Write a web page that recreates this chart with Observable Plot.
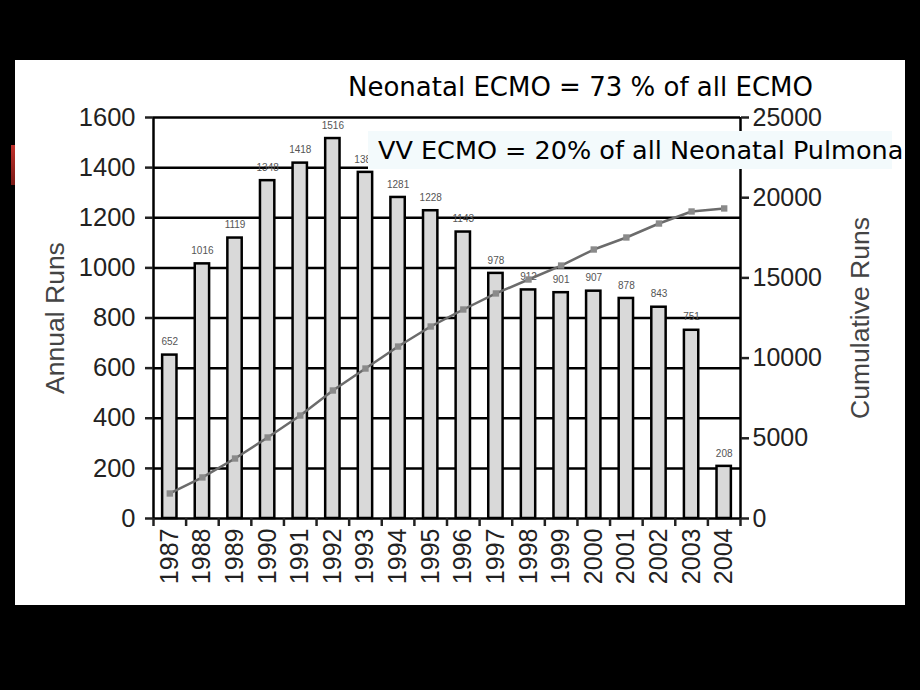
<!DOCTYPE html>
<html>
<head>
<meta charset="utf-8">
<script src="https://cdn.jsdelivr.net/npm/d3@7"></script>
<script src="https://cdn.jsdelivr.net/npm/@observablehq/plot@0.6"></script>
<style>
  html, body { margin: 0; padding: 0; background: #000; }
  #page { position: relative; width: 920px; height: 690px; background: #000; overflow: hidden; }
  #panel { position: absolute; left: 15px; top: 60px; width: 890px; height: 545px; background: #fff; }
  #red { position: absolute; left: 11px; top: 145px; width: 4px; height: 40px; background: linear-gradient(#c0302a, #7a1a16); }
  #chart { position: absolute; left: 0; top: 0; }
  .note { position: absolute; font-family: "Comic Sans MS", "DejaVu Sans", sans-serif; color: #000; white-space: nowrap; }
  #note1 { left: 348px; top: 72px; font-size: 26px; }
  #box2 { position: absolute; left: 368px; top: 131px; width: 524px; height: 38px; background: #f3fafc; }
  #note2 { left: 378px; top: 131px; height: 38px; line-height: 38px; font-size: 25.5px; }
</style>
</head>
<body>
<div id="page">
  <div id="panel"></div>
  <div id="red"></div>
  <div id="chart"></div>
  <div class="note" id="note1">Neonatal ECMO = 73 % of all ECMO</div>
  <div id="box2"></div>
  <div class="note" id="note2">VV ECMO = 20% of all Neonatal Pulmona</div>
</div>
<script>
const years = [1987,1988,1989,1990,1991,1992,1993,1994,1995,1996,1997,1998,1999,2000,2001,2002,2003,2004];
const annualRuns = [652,1016,1119,1348,1418,1516,1381,1281,1228,1143,978,912,901,907,878,843,751,208];
const cumulativeRuns = [1560,2560,3740,5050,6420,7980,9350,10720,11970,13030,14030,14900,15770,16770,17520,18390,19140,19330];
const leftTicks = [0,200,400,600,800,1000,1200,1400,1600];
const rightTicks = [0,5000,10000,15000,20000,25000];

const k = 1600 / 25000;
const data = years.map((y, i) => ({year: y, runs: annualRuns[i], cum: cumulativeRuns[i] * k}));
const edges = d3.range(years.length + 1).map(i => years[0] - 0.5 + i);

const chart = Plot.plot({
  width: 920,
  height: 690,
  marginTop: 117,
  marginBottom: 172,
  marginLeft: 153,
  marginRight: 180,
  style: {background: "transparent", color: "#222", fontFamily: "'Liberation Sans', Arial, sans-serif"},
  x: {type: "linear", domain: [1986.5, 2004.5]},
  y: {domain: [0, 1600]},
  marks: [
    Plot.ruleY(leftTicks.filter(d => d > 0), {stroke: "#000", strokeWidth: 2.5}),
    Plot.rectY(data, {x1: d => d.year - 0.22, x2: d => d.year + 0.22, y1: 0, y2: "runs", fill: "#d9d9d9", stroke: "#000", strokeWidth: 2.5}),
    Plot.text(data, {x: "year", y: "runs", text: d => String(d.runs), dy: -13, fontSize: 10, fill: "#555"}),
    Plot.lineY(data, {x: "year", y: "cum", stroke: "#6b6b6b", strokeWidth: 2.5}),
    Plot.dot(data, {x: "year", y: "cum", symbol: "square", r: 3.6, fill: "#8a8a8a", stroke: "none"}),
    Plot.ruleY([0], {stroke: "#000", strokeWidth: 2.5}),
    Plot.ruleX([1986.5, 2004.5], {stroke: "#000", strokeWidth: 2.5}),
    Plot.axisY(leftTicks, {anchor: "left", tickSize: 8, tickPadding: 10, fontSize: 25.5, strokeWidth: 2.5, tickFormat: d => String(d), label: null}),
    Plot.axisY(rightTicks.map(v => v * k), {anchor: "right", tickSize: 8, tickPadding: 4, fontSize: 25, strokeWidth: 2.5, tickFormat: d => String(Math.round(d / k)), label: null}),
    Plot.axisX(edges, {tickSize: 8, tickFormat: () => "", strokeWidth: 2.5, label: null}),
    Plot.axisX(years, {tickSize: 0, tickPadding: 10, tickRotate: -90, fontSize: 25, tickFormat: d => String(d), label: null}),
    Plot.text(["Annual Runs"], {frameAnchor: "left", dx: -98, rotate: -90, textAnchor: "middle", fontSize: 26.5, fill: "#444"}),
    Plot.text(["Cumulative Runs"], {frameAnchor: "right", dx: 120, rotate: -90, textAnchor: "middle", fontSize: 26.5, fill: "#444"})
  ]
});
document.getElementById("chart").appendChild(chart);
</script>
</body>
</html>
